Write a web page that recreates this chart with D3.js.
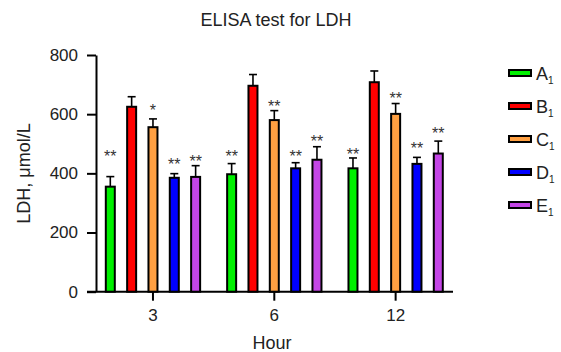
<!DOCTYPE html>
<html>
<head>
<meta charset="utf-8">
<script src="https://cdn.jsdelivr.net/npm/d3@7"></script>
<style>
  body { margin: 0; background: #fff; }
  svg text { font-family: "Liberation Sans", Arial, Helvetica, sans-serif; }
</style>
</head>
<body>
<div id="chart"></div>
<script>
// categories
var hours = ["3", "6", "12"];
var groups = ["A", "B", "C", "D", "E"];
var colors = ["#00f000", "#ff0000", "#ffa042", "#0000ff", "#c446e6"];

// means (umol/L) per group, one value per hour
var meanA = [355, 397, 417];
var meanB = [625, 696, 708];
var meanC = [556, 580, 601];
var meanD = [385, 417, 432];
var meanE = [388, 446, 467];

// SD (upper error bar)
var sdA = [34, 36, 35];
var sdB = [34, 38, 38];
var sdC = [28, 32, 35];
var sdD = [14, 19, 22];
var sdE = [38, 44, 42];

// significance marks and the level they sit at
var sigA = ["**", "**", "**"];
var sigB = ["", "", ""];
var sigC = ["*", "**", "**"];
var sigD = ["**", "**", "**"];
var sigE = ["**", "**", "**"];
var starA = [469, 468, 476];
var starB = [0, 0, 0];
var starC = [625, 637, 665];
var starD = [442, 468, 496];
var starE = [451, 519, 547];

var yTicks = [0, 200, 400, 600, 800];

var means = [meanA, meanB, meanC, meanD, meanE];
var sds = [sdA, sdB, sdC, sdD, sdE];
var sigs = [sigA, sigB, sigC, sigD, sigE];
var stars = [starA, starB, starC, starD, starE];

var w = 561, h = 352;

var rows = [];
hours.forEach(function (hr, i) {
    groups.forEach(function (g, j) {
        rows.push({ hour: hr, group: g, color: colors[j], mean: means[j][i], sd: sds[j][i], sig: sigs[j][i], star: stars[j][i] });
    });
});

var svg = d3.select("#chart").append("svg")
    .attr("width", w)
    .attr("height", h);

var x0 = d3.scaleBand()
    .domain(hours)
    .range([92.3, 456.3])
    .paddingInner(0.121)
    .paddingOuter(0.0605);

var x1 = d3.scaleBand()
    .domain(groups)
    .range([0, x0.bandwidth()])
    .paddingInner(0.578)
    .paddingOuter(0.289);

var y = d3.scaleLinear()
    .domain([0, 800])
    .range([291.7, 55]);

// title
svg.append("text")
    .attr("x", 276)
    .attr("y", 26)
    .attr("text-anchor", "middle")
    .style("font-size", "18px")
    .style("fill", "#222")
    .text("ELISA test for LDH");

// y axis
var yAxis = svg.append("g")
    .attr("transform", "translate(96,0)")
    .call(d3.axisLeft(y).tickValues(yTicks).tickSize(9).tickSizeOuter(0).tickPadding(9));
yAxis.select(".domain").attr("stroke-width", 2).attr("stroke", "#000");
yAxis.selectAll(".tick line").attr("stroke-width", 2).attr("stroke", "#000");
yAxis.selectAll(".tick text")
    .style("font-size", "17px")
    .style("font-family", "'Liberation Sans', Arial, sans-serif")
    .attr("fill", "#222");

svg.append("text")
    .attr("transform", "rotate(-90)")
    .attr("x", -173.5)
    .attr("y", 30)
    .attr("text-anchor", "middle")
    .style("font-size", "18px")
    .style("fill", "#222")
    .text("LDH, \u03bcmol/L");

// x axis
var xAxis = svg.append("g")
    .attr("transform", "translate(0," + y(0) + ")")
    .call(d3.axisBottom(x0).tickSize(9).tickSizeOuter(0).tickPadding(8));
xAxis.select(".domain").remove();
xAxis.selectAll(".tick line").attr("stroke-width", 2).attr("stroke", "#000");
xAxis.selectAll(".tick text")
    .style("font-size", "17px")
    .style("font-family", "'Liberation Sans', Arial, sans-serif")
    .attr("fill", "#222");

svg.append("line")
    .attr("x1", 87).attr("x2", 453)
    .attr("y1", y(0)).attr("y2", y(0))
    .attr("stroke", "#000")
    .attr("stroke-width", 2);

svg.append("text")
    .attr("x", 272)
    .attr("y", 349)
    .attr("text-anchor", "middle")
    .style("font-size", "18px")
    .style("fill", "#222")
    .text("Hour");

// bars
var bar = svg.append("g").selectAll("g")
    .data(rows)
    .enter()
    .append("g")
    .attr("transform", d => "translate(" + (x0(d.hour) + x1(d.group)) + ",0)");

var bw = x1.bandwidth();

// error bars
bar.append("line")
    .attr("x1", bw / 2).attr("x2", bw / 2)
    .attr("y1", d => y(d.mean))
    .attr("y2", d => y(d.mean + d.sd))
    .attr("stroke", "#000")
    .attr("stroke-width", 1.6);

bar.append("line")
    .attr("x1", bw / 2 - 4).attr("x2", bw / 2 + 4)
    .attr("y1", d => y(d.mean + d.sd))
    .attr("y2", d => y(d.mean + d.sd))
    .attr("stroke", "#000")
    .attr("stroke-width", 1.6);

bar.append("rect")
    .attr("x", 0)
    .attr("y", d => y(d.mean))
    .attr("width", bw)
    .attr("height", d => y(0) - y(d.mean))
    .attr("fill", d => d.color)
    .attr("stroke", "#000")
    .attr("stroke-width", 2);

bar.filter(d => d.sig)
    .append("text")
    .attr("x", bw / 2)
    .attr("y", d => y(d.star) + 9)
    .attr("text-anchor", "middle")
    .style("font-size", "16px")
    .style("fill", "#333")
    .text(d => d.sig);

// legend
var legend = svg.append("g").selectAll("g")
    .data(groups)
    .enter()
    .append("g")
    .attr("transform", (d, i) => "translate(509," + (73 + i * 33) + ")");

legend.append("rect")
    .attr("x", 0)
    .attr("y", -3)
    .attr("width", 22)
    .attr("height", 6)
    .attr("fill", (d, i) => colors[i])
    .attr("stroke", "#000")
    .attr("stroke-width", 2);

var lt = legend.append("text")
    .attr("x", 27)
    .attr("y", 6.5)
    .style("font-size", "18px")
    .style("fill", "#222")
    .text(d => d);

lt.append("tspan")
    .attr("dy", 4)
    .style("font-size", "10px")
    .text("1");
</script>
</body>
</html>
